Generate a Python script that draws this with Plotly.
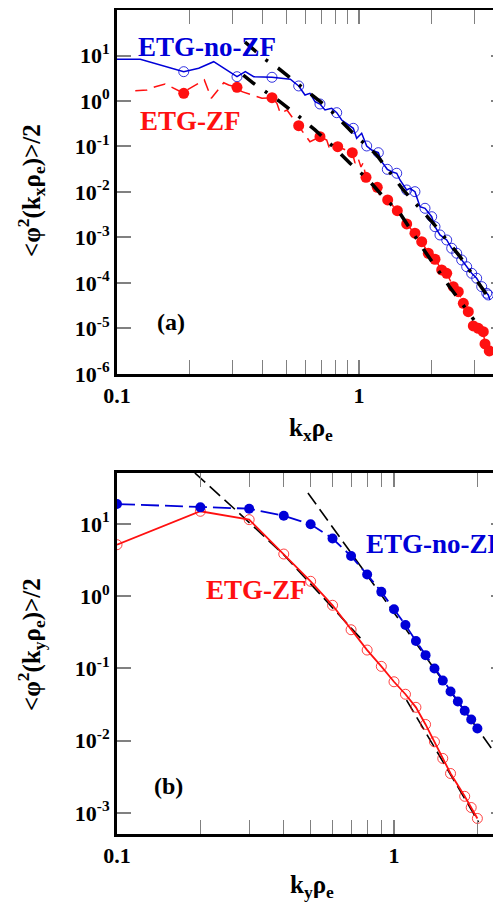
import plotly.graph_objects as go

# ---------------- data: panel (a) ----------------
kx_noZF_line = [0.100, 0.1248, 0.1887, 0.2176, 0.2509, 0.3132, 0.3390, 0.3672, 0.4370, 0.5201,
                0.5633, 0.5981, 0.6271, 0.6578, 0.6899, 0.7236, 0.7713, 0.8090, 0.8483, 0.8896,
                0.9471, 0.978, 1.026, 1.076, 1.128, 1.202, 1.241, 1.309, 1.365, 1.432,
                1.477, 1.574, 1.624, 1.703, 1.787, 1.874, 1.997, 2.061, 2.161, 2.304,
                2.416, 2.534, 2.657, 2.786, 2.922, 3.064, 3.214, 3.372, 3.422, 3.478]
phi_noZF_line = [8.25, 8.25, 4.41, 5.23, 7.31, 3.42, 4.41, 3.42, 3.32, 3.00,
                 2.14, 1.355, 1.476, 0.966, 0.859, 0.634, 0.692, 0.553, 0.382, 0.324,
                 0.251, 0.151, 0.195, 0.1026, 0.0838, 0.0731, 0.0463, 0.0315, 0.0279, 0.0258,
                 0.01835, 0.01106, 0.01205, 0.01016, 0.00475, 0.00438, 0.00286, 0.001727, 0.001135, 0.000881,
                 0.000579, 0.000450, 0.000320, 0.000228, 0.000163, 0.000127, 0.0000830, 0.0000594, 0.0000545, 0.0000423]

kx_noZF_pts = [0.1887, 0.3132, 0.4370, 0.5633, 0.6899, 0.8090, 0.9471, 1.076, 1.202, 1.309,
               1.432, 1.574, 1.703, 1.874, 1.997, 2.061, 2.161, 2.304, 2.416, 2.534,
               2.657, 2.786, 2.922, 3.064, 3.214, 3.372, 3.422]
phi_noZF_pts = [4.41, 3.42, 3.32, 2.14, 0.859, 0.553, 0.251, 0.1026, 0.0731, 0.0315,
                0.0258, 0.01106, 0.01016, 0.00438, 0.00286, 0.001727, 0.001135, 0.000881, 0.000579, 0.000450,
                0.000320, 0.000228, 0.000163, 0.000127, 0.0000830, 0.0000594, 0.0000545]

kx_ZF_line = [0.119, 0.133, 0.144, 0.158, 0.1887, 0.195, 0.2295, 0.2453, 0.276, 0.2894,
              0.3132, 0.3285, 0.397, 0.437, 0.458, 0.473, 0.504, 0.5633, 0.6271, 0.6899,
              0.7355, 0.7586, 0.8166, 0.938, 0.963, 0.9906, 1.019, 1.039, 1.069, 1.190,
              1.221, 1.314, 1.440, 1.574, 1.703, 1.816, 1.934, 2.061, 2.196, 2.304,
              2.453, 2.572, 2.698, 2.829, 2.967, 3.112, 3.263, 3.317, 3.454]
phi_ZF_line = [1.68, 1.75, 2.06, 2.37, 1.476, 1.75, 2.90, 1.146, 2.52, 2.25,
               2.0, 1.60, 1.15, 1.18, 0.889, 0.537, 0.634, 0.286, 0.127, 0.164,
               0.139, 0.0838, 0.099, 0.0731, 0.0433, 0.0559, 0.0354, 0.0433, 0.021, 0.01268,
               0.00789, 0.00667, 0.00388, 0.00198, 0.00124, 0.000809, 0.000450, 0.000332, 0.000193, 0.000163,
               0.0000830, 0.0000644, 0.0000358, 0.0000234, 0.0000114, 0.0000101, 0.0000085, 0.00000456, 0.0000032]

kx_ZF_pts = [0.1887, 0.3132, 0.437, 0.5633, 0.6899, 0.8166, 0.938, 1.069, 1.190, 1.314,
             1.440, 1.574, 1.703, 1.816, 1.934, 2.061, 2.196, 2.304, 2.453, 2.572,
             2.698, 2.829, 2.967, 3.112, 3.263, 3.317, 3.454]
phi_ZF_pts = [1.476, 2.0, 1.18, 0.286, 0.164, 0.099, 0.0731, 0.021, 0.01268, 0.00667,
              0.00388, 0.00198, 0.00124, 0.000809, 0.000450, 0.000332, 0.000193, 0.000163, 0.0000830, 0.0000644,
              0.0000358, 0.0000234, 0.0000114, 0.0000101, 0.0000085, 0.00000456, 0.0000032]

kx_fit_noZF = [0.338, 0.409, 0.464, 0.535, 0.589, 0.669, 0.7465, 0.835, 0.947, 1.183, 1.524, 2.028, 2.615, 3.372]
phi_fit_noZF = [19.8, 8.25, 5.24, 2.90, 1.90, 1.146, 0.701, 0.382, 0.195, 0.065, 0.01106, 0.00205, 0.000379, 0.0000545]

kx_fit_ZF = [0.3325, 0.3664, 0.464, 0.549, 0.6578, 0.777, 0.918, 1.084, 1.260, 1.477, 1.844, 2.354, 2.987]
phi_fit_ZF = [3.72, 2.45, 1.026, 0.518, 0.231, 0.1026, 0.0428, 0.0193, 0.00789, 0.0034, 0.000558, 0.0000859, 0.0000154]

# ---------------- data: panel (b) ----------------
ky_noZF = [0.1, 0.2, 0.3, 0.4, 0.5, 0.6, 0.7, 0.8, 0.9, 1.0,
           1.1, 1.2, 1.3, 1.4, 1.5, 1.6, 1.7, 1.8, 1.9, 2.0]
phiy_noZF = [18.9, 17.0, 16.3, 13.0, 9.9, 6.3, 3.6, 2.0, 1.15, 0.66,
             0.40, 0.24, 0.153, 0.100, 0.068, 0.048, 0.035, 0.026, 0.0197, 0.0148]

ky_ZF = [0.1, 0.2, 0.3, 0.4, 0.5, 0.6, 0.7, 0.8, 0.9, 1.0,
         1.1, 1.2, 1.3, 1.4, 1.5, 1.6, 1.8, 1.9, 2.0]
phiy_ZF = [5.17, 15.0, 11.5, 3.84, 1.61, 0.75, 0.344, 0.18, 0.107, 0.0655,
           0.044, 0.029, 0.0168, 0.00966, 0.00569, 0.00352, 0.00170, 0.00119, 0.00084]

ky_fit1 = [0.191, 0.271, 0.40, 0.766]
phiy_fit1 = [50.8, 15.1, 3.76, 0.25]
ky_fit2 = [1.11, 2.02]
phiy_fit2 = [0.0365, 0.00075]
ky_fit3 = [0.489, 2.414]
phiy_fit3 = [26.9, 0.00538]

# tick labels
yticks_a = [1e-6, 1e-5, 1e-4, 1e-3, 1e-2, 1e-1, 1, 10, 100]
yticktext_a = ["10<sup>-6</sup>", "10<sup>-5</sup>", "10<sup>-4</sup>", "10<sup>-3</sup>",
               "10<sup>-2</sup>", "10<sup>-1</sup>", "10<sup>0</sup>", "10<sup>1</sup>", "10<sup>2</sup>"]
yticks_b = [1e-3, 1e-2, 1e-1, 1, 10]
yticktext_b = ["10<sup>-3</sup>", "10<sup>-2</sup>", "10<sup>-1</sup>", "10<sup>0</sup>", "10<sup>1</sup>"]
xticks = [0.1, 1]
xticktext = ["0.1", "1"]
minor_x = [0.2, 0.3, 0.4, 0.5, 0.6, 0.7, 0.8, 0.9, 2, 3]

BLUE = "#0000d8"
RED = "#ff1010"
FONT = "Liberation Serif, Times New Roman, serif"

fig = go.Figure()

# panel (a)
fig.add_trace(go.Scatter(x=kx_noZF_line, y=phi_noZF_line, mode="lines",
                         line=dict(color=BLUE, width=1.5), xaxis="x", yaxis="y"))
fig.add_trace(go.Scatter(x=kx_noZF_pts, y=phi_noZF_pts, mode="markers",
                         marker=dict(symbol="circle-open", size=10, color=BLUE, line=dict(width=0.8)),
                         xaxis="x", yaxis="y"))
fig.add_trace(go.Scatter(x=kx_ZF_line, y=phi_ZF_line, mode="lines",
                         line=dict(color=RED, width=1.5, dash="12px,7px"), xaxis="x", yaxis="y"))
fig.add_trace(go.Scatter(x=kx_ZF_pts, y=phi_ZF_pts, mode="markers",
                         marker=dict(symbol="circle", size=11, color=RED), xaxis="x", yaxis="y"))
fig.add_trace(go.Scatter(x=kx_fit_noZF, y=phi_fit_noZF, mode="lines",
                         line=dict(color="black", width=3.5, dash="15px,12px,3px,12px"), xaxis="x", yaxis="y"))
fig.add_trace(go.Scatter(x=kx_fit_ZF, y=phi_fit_ZF, mode="lines",
                         line=dict(color="black", width=3.5, dash="15px,12px,3px,12px"), xaxis="x", yaxis="y"))

# panel (b)
fig.add_trace(go.Scatter(x=ky_fit1, y=phiy_fit1, mode="lines",
                         line=dict(color="black", width=1.6, dash="14px,6px"), xaxis="x2", yaxis="y2"))
fig.add_trace(go.Scatter(x=ky_fit2, y=phiy_fit2, mode="lines",
                         line=dict(color="black", width=1.6, dash="14px,6px"), xaxis="x2", yaxis="y2"))
fig.add_trace(go.Scatter(x=ky_fit3, y=phiy_fit3, mode="lines",
                         line=dict(color="black", width=1.6, dash="14px,6px"), xaxis="x2", yaxis="y2"))
fig.add_trace(go.Scatter(x=ky_ZF, y=phiy_ZF, mode="lines+markers",
                         line=dict(color=RED, width=1.8),
                         marker=dict(symbol="circle-open", size=10, color=RED, line=dict(width=0.8)),
                         xaxis="x2", yaxis="y2"))
fig.add_trace(go.Scatter(x=ky_noZF, y=phiy_noZF, mode="lines+markers",
                         line=dict(color=BLUE, width=1.8, dash="18px,6px"),
                         marker=dict(symbol="circle", size=10, color=BLUE),
                         xaxis="x2", yaxis="y2"))

# empty traces for right-side tick axes
fig.add_trace(go.Scatter(x=[None], y=[None], xaxis="x", yaxis="y3", hoverinfo="skip"))
fig.add_trace(go.Scatter(x=[None], y=[None], xaxis="x2", yaxis="y4", hoverinfo="skip"))

tickfont = dict(family=FONT, size=22, color="black", weight="bold")
TICKC = "#808080"

def xax(rng, anchor):
    return dict(type="log", range=rng, domain=[0, 1], anchor=anchor, automargin=False,
                showline=True, linecolor="black", linewidth=3, mirror="allticks",
                ticks="inside", ticklen=14, tickwidth=1.5, tickcolor=TICKC,
                tickvals=xticks, ticktext=xticktext, tickfont=tickfont,
                showgrid=False, zeroline=False,
                minor=dict(ticks="inside", ticklen=7, tickwidth=1.2, tickcolor=TICKC,
                           tickmode="array", tickvals=minor_x, showgrid=False))

def yax(rng, dom, anchor, tv, tt):
    return dict(type="log", range=rng, domain=dom, anchor=anchor, automargin=False,
                showline=True, linecolor="black", linewidth=3,
                ticks="inside", ticklen=14, tickwidth=1.5, tickcolor=TICKC,
                tickvals=tv, ticktext=tt, tickfont=tickfont,
                showgrid=False, zeroline=False)

def yright(rng, over, anchor, tv):
    return dict(type="log", range=rng, overlaying=over, side="right", anchor=anchor, automargin=False,
                showline=False, ticks="inside", ticklen=10, tickwidth=1.5, tickcolor=TICKC,
                tickvals=tv, showticklabels=False, showgrid=False, zeroline=False)

dom_a = [0.5583, 1.0]
dom_b = [0.0, 0.4381]
rng_ya = [-6, 2]
rng_yb = [-3.291, 1.706]

def ann(text, x, y, size, color="black", angle=0, xanchor="center"):
    return dict(text=text, x=x, y=y, xref="paper", yref="paper", showarrow=False,
                xanchor=xanchor, yanchor="middle", textangle=angle,
                font=dict(family=FONT, size=size, color=color))

# page pixels (screenshot) -> paper coordinates; plot area spans x 117..501, y 10..834
def px_x(px):
    return (px - 117) / 384.0

def px_y(py):
    return (834 - py) / 824.0

annotations = [
    ann("<b>ETG-no-ZF</b>", px_x(206.5), px_y(47), 27, BLUE),
    ann("<b>ETG-ZF</b>", px_x(190.5), px_y(121), 27, RED),
    ann("<b>(a)</b>", px_x(170.5), px_y(322), 24),
    ann("<b>ETG-no-ZF</b>", px_x(364), px_y(544), 27, BLUE, xanchor="left"),
    ann("<b>ETG-ZF</b>", px_x(256), px_y(590), 27, RED),
    ann("<b>(b)</b>", px_x(168.5), px_y(786), 24),
    ann("<b>k<sub>x</sub>ρ<sub>e</sub></b>", px_x(311), px_y(429), 25),
    ann("<b>k<sub>y</sub>ρ<sub>e</sub></b>", px_x(312), px_y(886), 25),
    ann("<b>&lt;φ<sup>2</sup>(k<sub>x</sub>ρ<sub>e</sub>)&gt;/2</b>", px_x(31), px_y(191), 25, angle=-90),
    ann("<b>&lt;φ<sup>2</sup>(k<sub>y</sub>ρ<sub>e</sub>)&gt;/2</b>", px_x(31), px_y(645), 25, angle=-90),
]

# the page body has an 8px margin; the figure is sized so the plot lands where the reference has it
fig.update_layout(
    width=493, height=896,
    margin=dict(l=109, r=0, t=2, b=70),
    paper_bgcolor="white", plot_bgcolor="white",
    showlegend=False,
    font=dict(family=FONT, size=22, color="black"),
    xaxis=xax([-1, 0.5868], "y"),
    yaxis=yax(rng_ya, dom_a, "x", yticks_a, yticktext_a),
    xaxis2=xax([-1, 0.3863], "y2"),
    yaxis2=yax(rng_yb, dom_b, "x2", yticks_b, yticktext_b),
    yaxis3=yright(rng_ya, "y", "x", yticks_a),
    yaxis4=yright(rng_yb, "y2", "x2", yticks_b),
    annotations=annotations,
)

fig.write_html("out.html")
